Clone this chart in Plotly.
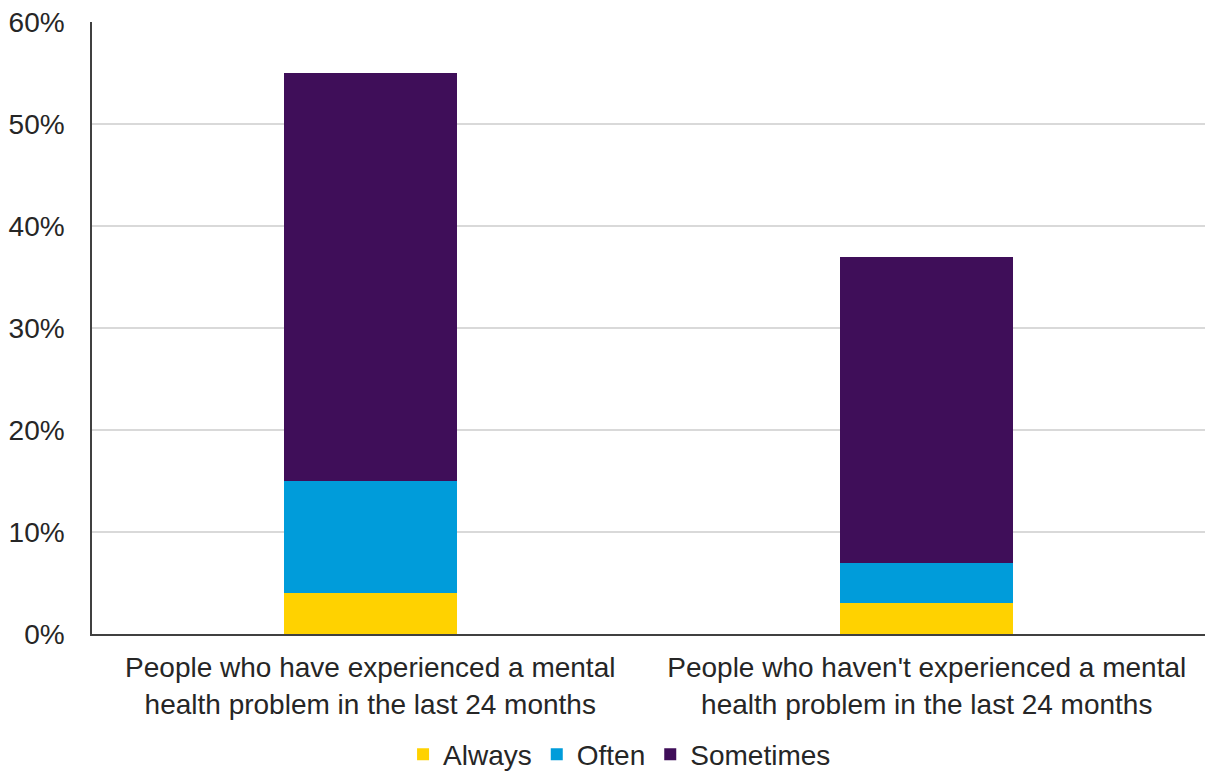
import plotly.graph_objects as go

categories = [
    "People who have experienced a mental<br>health problem in the last 24 months",
    "People who haven't experienced a mental<br>health problem in the last 24 months",
]
always = [4, 3]
often = [11, 4]
sometimes = [40, 30]
series_names = ["Always", "Often", "Sometimes"]
colors = ["#FFD200", "#009CDA", "#3F0E59"]
y_ticks = [0, 10, 20, 30, 40, 50, 60]
y_tick_labels = [f"{v}%" for v in y_ticks]

FONT = "Liberation Sans, Arial, sans-serif"
fig = go.Figure()
for name, vals, col in zip(series_names, [always, often, sometimes], colors):
    fig.add_trace(go.Bar(x=categories, y=vals, name=name, marker_color=col,
                         marker_line_width=0))

fig.update_layout(
    barmode="stack",
    bargap=0.69,
    width=1205, height=775,
    margin=dict(l=92, r=0, t=22, b=141, autoexpand=False),
    paper_bgcolor="white", plot_bgcolor="white",
    font=dict(family=FONT, size=28, color="#262626"),
    legend=dict(orientation="h", x=0.474, xanchor="center", y=-0.197, yanchor="middle",
                font=dict(size=28, color="#262626"), itemwidth=30, tracegroupgap=0,
                traceorder="normal", bgcolor="rgba(0,0,0,0)"),
    showlegend=True,
)
fig.update_yaxes(range=[0, 60], tickvals=y_ticks, ticktext=y_tick_labels, showgrid=True,
                 gridcolor="#D9D9D9", gridwidth=1.5, showline=True, linecolor="#404040",
                 linewidth=1.5, zeroline=False, ticks="", ticklabelstandoff=20,
                 tickfont=dict(size=28), automargin=False)
fig.update_xaxes(showline=True, linecolor="#404040", linewidth=1.5, ticks="",
                 ticklabelstandoff=8, tickfont=dict(size=28), automargin=False)

fig.write_html("out.html")
